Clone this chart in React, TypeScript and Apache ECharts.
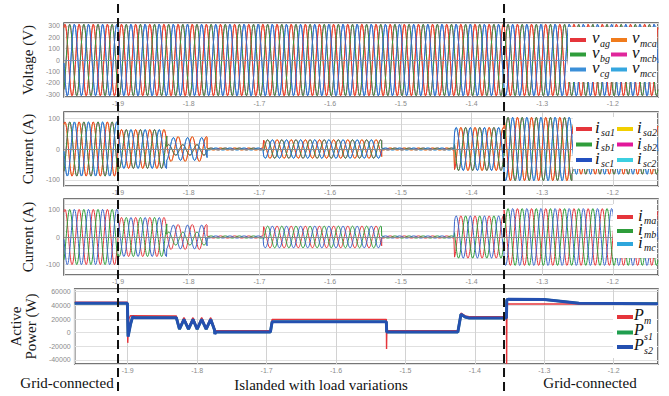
import React, { useEffect, useRef } from "react";
import * as echarts from "echarts";

// ---------- time axis ----------
const T_START = -1.9764;
const T_END = -1.1362;
const GRID_FREQ_HZ = 50;
const SAMPLE_STEP = 0.0005;
const SWITCH_TIMES = [-1.9, -1.354];
const timeTickLabels = [-1.9, -1.8, -1.7, -1.6, -1.5, -1.4, -1.3, -1.2];

// ---------- panel 1 : voltages (segment start, amplitude) ----------
const voltageSegStart = [T_START];
const voltageAmp = [315];
const voltTickLabels = [-300, -200, -100, 0, 100, 200, 300];

// ---------- panel 2 : source currents ----------
const srcSegStart = [-1.98, -1.9, -1.831, -1.774, -1.694, -1.527, -1.424, -1.354, -1.258];
const srcAmpA = [88, 63, 40, 3, 30, 3, 70, 103, 82];
const srcAmpB = [88, 63, 17, 3, 30, 3, 70, 103, 82];
const srcAmpC = [88, 63, 37, 3, 30, 3, 70, 103, 82];
const srcOffB = [0, 0, -3, 0, 0, 0, 0, 0, 0];
const currentTickLabels = [-100, 0, 100];

// ---------- panel 3 : microgrid currents ----------
const mgSegStart = [-1.98, -1.9, -1.831, -1.774, -1.694, -1.527, -1.424, -1.354];
const mgAmpA = [102, 72, 46, 4, 40, 4, 78, 105];
const mgAmpB = [102, 72, 24, 4, 40, 4, 78, 105];
const mgAmpC = [102, 72, 44, 4, 40, 4, 78, 105];
const mgOffB = [0, 0, -6, 0, 0, 0, 0, 0];

// ---------- panel 4 : active power breakpoints ----------
const psTimes = [
  -1.9764, -1.9005, -1.8995, -1.896, -1.893, -1.89, -1.83, -1.8255, -1.819, -1.8125, -1.806,
  -1.8, -1.7935, -1.787, -1.7805, -1.775, -1.7745, -1.773, -1.6945, -1.692, -1.5275, -1.527,
  -1.4245, -1.42, -1.414, -1.408, -1.3545, -1.354, -1.352, -1.3, -1.25, -1.1362,
];
const ps2Values = [
  43000, 43000, -6000, 12000, 23000, 22000, 22000, 5000, 19500, 5000, 19500,
  5000, 19500, 5000, 19500, 4000, -2000, 1000, 1000, 16000, 16000, 1000,
  1000, 27000, 23000, 21500, 21500, 48000, 49000, 48500, 43000, 42500,
];
const ps1Values = [
  43000, 43000, -5000, 12500, 23000, 22000, 22000, 5000, 19500, 5000, 19500,
  5000, 19500, 5000, 19500, 4000, -1500, 1000, 1000, 16000, 16000, 1000,
  1000, 27000, 23000, 21500, 21500, 48000, 49000, 48500, 43000, 42500,
];
const pmTimes = [
  -1.9764, -1.9005, -1.9, -1.8985, -1.896, -1.83, -1.8255, -1.819, -1.8125, -1.806, -1.8,
  -1.7935, -1.787, -1.7805, -1.775, -1.7745, -1.773, -1.6945, -1.692, -1.5275, -1.5272,
  -1.5268, -1.4245, -1.42, -1.414, -1.408, -1.3545, -1.3542, -1.3538, -1.1362,
];
const pmValues = [
  44500, 44500, -15000, 20000, 25000, 24500, 6500, 22000, 6500, 22000, 6500,
  22000, 6500, 22000, 6000, 0, 3000, 3000, 19500, 19500, -24000,
  3000, 3000, 28500, 24500, 23500, 23500, -46000, 42000, 42000,
];
const powerTickLabels = [-40000, -20000, 0, 20000, 40000, 60000];

// ---------- colours ----------
const RED = "#e5353b";
const GREEN = "#2f9d3b";
const BLUE = "#3b66c9";

const SERIF = "'Liberation Serif', 'DejaVu Serif', serif";

function sampleWave(starts: number[], amps: number[], offs: number[] | null, phaseDeg: number) {
  const times: number[] = [];
  const n = Math.round((T_END - T_START) / SAMPLE_STEP);
  for (let i = 0; i <= n; i++) times.push(T_START + i * SAMPLE_STEP);
  for (const s of starts) if (s > T_START && s < T_END) { times.push(s - 1e-6); times.push(s); }
  times.sort((a, b) => a - b);
  const pts: number[][] = [];
  for (const t of times) {
    let k = 0;
    while (k + 1 < starts.length && t >= starts[k + 1]) k++;
    const w = 2 * Math.PI * GRID_FREQ_HZ * t + (phaseDeg * Math.PI) / 180;
    pts.push([t, amps[k] * Math.sin(w) + (offs ? offs[k] : 0)]);
  }
  return pts;
}

const zip = (ts: number[], vs: number[]) => ts.map((t, i) => [t, vs[i]]);

function lineSeries(name: string, data: number[][], color: string, idx: number, width = 1, z = 2, extra: any = {}) {
  return {
    type: "line", name, data, xAxisIndex: idx, yAxisIndex: idx,
    showSymbol: false, symbol: "none", silent: true, z,
    lineStyle: { color, width }, itemStyle: { color },
    ...extra,
  };
}

const zeroLine = (color: string) => ({
  markLine: {
    silent: true, symbol: "none", label: { show: false },
    lineStyle: { color, width: 1, type: "solid" },
    data: [{ yAxis: 0 }],
  },
});

const labelIn = (list: number[]) => (v: number) =>
  list.some((l) => Math.abs(l - v) < 1e-6) ? String(Math.round(v * 10) / 10) : "";

const grids = [
  { left: 64, top: 23, width: 594, height: 74 },
  { left: 64, top: 112, width: 594, height: 74 },
  { left: 64, top: 199, width: 594, height: 76 },
  { left: 64, top: 289, width: 594, height: 75 },
];

function buildOption() {
  const xAxis = grids.map((_, i) => ({
    type: "value", gridIndex: i, min: T_START, max: T_END,
    minInterval: 0.1, maxInterval: 0.1,
    axisLine: { show: false }, axisTick: { show: false },
    axisLabel: {
      fontSize: 7, color: "#8a8a8a", margin: 3, fontFamily: "Liberation Sans",
      formatter: (v: number) => (timeTickLabels.some((l) => Math.abs(l - v) < 1e-6) ? v.toFixed(1) : ""),
    },
    splitLine: { show: true, lineStyle: { color: "#d2d2d2", width: 1 } },
  }));
  const yCommon = (i: number, labels: number[], name: string, gap: number) => ({
    type: "value", gridIndex: i,
    axisLine: { show: false }, axisTick: { show: false },
    axisLabel: { fontSize: 7, color: "#8a8a8a", margin: 4, fontFamily: "Liberation Sans", formatter: labelIn(labels) },
    splitLine: { show: true, lineStyle: { color: "#e0e0e0", width: 1 } },
    name, nameLocation: "middle", nameGap: gap,
    nameTextStyle: { fontFamily: SERIF, fontSize: 15, color: "#1a1a1a", lineHeight: 15 },
  });
  const yAxis = [
    { ...yCommon(0, voltTickLabels, "Voltage (V)", 22), min: -325, max: 325, minInterval: 100, maxInterval: 100 },
    { ...yCommon(1, currentTickLabels, "Current (A)", 22), min: -120, max: 120, interval: 20 },
    { ...yCommon(2, currentTickLabels, "Current (A)", 22), min: -140, max: 140, interval: 20 },
    { ...yCommon(3, powerTickLabels, "Active\nPower (W)", 33), min: -46000, max: 64000, minInterval: 20000, maxInterval: 20000 },
  ];

  const series: any[] = [];
  // panel 1
  series.push(lineSeries("v_mca", sampleWave(voltageSegStart, voltageAmp, null, 0), "#f07b1c", 0, 1, 1));
  series.push(lineSeries("v_mcb", sampleWave(voltageSegStart, voltageAmp, null, -120), "#e0269b", 0, 1, 1));
  series.push(lineSeries("v_mcc", sampleWave(voltageSegStart, voltageAmp, null, 120), "#35a6df", 0, 1, 1));
  series.push(lineSeries("v_ag", sampleWave(voltageSegStart, voltageAmp, null, 0), RED, 0, 1, 2));
  series.push(lineSeries("v_bg", sampleWave(voltageSegStart, voltageAmp, null, -120), GREEN, 0, 1, 2));
  series.push(lineSeries("v_cg", sampleWave(voltageSegStart, voltageAmp, null, 120), BLUE, 0, 1, 2, zeroLine("#7d8ea8")));
  // panel 2
  series.push(lineSeries("i_sa2", sampleWave(srcSegStart, srcAmpA, null, 0), "#f2cf00", 1, 1, 1));
  series.push(lineSeries("i_sb2", sampleWave(srcSegStart, srcAmpB, srcOffB, -120), "#e2179a", 1, 1, 1));
  series.push(lineSeries("i_sc2", sampleWave(srcSegStart, srcAmpC, null, 120), "#3ccfe0", 1, 1, 1));
  series.push(lineSeries("i_sa1", sampleWave(srcSegStart, srcAmpA, null, 0), RED, 1, 1, 2));
  series.push(lineSeries("i_sb1", sampleWave(srcSegStart, srcAmpB, srcOffB, -120), GREEN, 1, 1, 2));
  series.push(lineSeries("i_sc1", sampleWave(srcSegStart, srcAmpC, null, 120), BLUE, 1, 1, 2, zeroLine("#8a8a8a")));
  // panel 3
  series.push(lineSeries("i_ma", sampleWave(mgSegStart, mgAmpA, null, 0), RED, 2, 1, 2));
  series.push(lineSeries("i_mb", sampleWave(mgSegStart, mgAmpB, mgOffB, -120), GREEN, 2, 1, 2));
  series.push(lineSeries("i_mc", sampleWave(mgSegStart, mgAmpC, null, 120), BLUE, 2, 1, 2, zeroLine("#8a8a8a")));
  // panel 4
  series.push(lineSeries("P_s1", zip(psTimes, ps1Values), "#1f9e4f", 3, 2.6, 1));
  series.push(lineSeries("P_m", zip(pmTimes, pmValues), RED, 3, 1.4, 2));
  series.push(lineSeries("P_s2", zip(psTimes, ps2Values), "#2450b0", 3, 3, 3));

  return {
    animation: false,
    backgroundColor: "#ffffff",
    grid: grids.map((g) => ({ ...g, show: true, borderColor: "#4a4a4a", borderWidth: 1.5, backgroundColor: "transparent" })),
    xAxis, yAxis, series,
  };
}

// ---------- legends ----------
type Item = [string, string, string];
const voltLegend: Item[] = [
  ["v", "ag", RED], ["v", "bg", GREEN], ["v", "cg", "#3b8fd8"],
  ["v", "mca", "#f07b1c"], ["v", "mcb", "#e0269b"], ["v", "mcc", "#35a6df"],
];
const srcLegend: Item[] = [
  ["i", "sa1", RED], ["i", "sb1", GREEN], ["i", "sc1", "#2350c0"],
  ["i", "sa2", "#f2cf00"], ["i", "sb2", "#e2179a"], ["i", "sc2", "#3ccfe0"],
];
const mgLegend: Item[] = [["i", "ma", RED], ["i", "mb", GREEN], ["i", "mc", "#2ea6dc"]];
const powerLegend: Item[] = [["P", "m", RED], ["P", "s1", "#1f9e4f"], ["P", "s2", "#2450b0"]];

function legendBlock(
  box: [number, number, number, number],
  cols: { barX: number; textX: number }[],
  rowsY: number[],
  items: Item[],
  mainSize: number,
  subDx: number,
  mainDy: number,
  subDy: number,
) {
  const els: any[] = [
    { type: "rect", shape: { x: box[0], y: box[1], width: box[2], height: box[3] }, style: { fill: "#ffffff" }, z: 50 },
  ];
  items.forEach((it, idx) => {
    const c = cols[Math.floor(idx / rowsY.length)];
    const y = rowsY[idx % rowsY.length];
    els.push({ type: "rect", shape: { x: c.barX, y: y - 2, width: 16, height: 4 }, style: { fill: it[2] }, z: 51 });
    els.push({
      type: "text", x: c.textX, y: y + mainDy, z: 51,
      style: { text: it[0], font: `italic ${mainSize}px ${SERIF}`, lineHeight: 11, fill: "#111", verticalAlign: "middle", align: "left" },
    });
    els.push({
      type: "text", x: c.textX + subDx, y: y + subDy, z: 51,
      style: { text: it[1], font: `italic 10px ${SERIF}`, lineHeight: 8, fill: "#111", verticalAlign: "middle", align: "left" },
    });
  });
  return els;
}

function buildGraphic(switchX: number[]) {
  const els: any[] = [];
  els.push(...legendBlock([568, 27, 89, 55], [{ barX: 570, textX: 592 }, { barX: 611, textX: 632 }], [40, 54.5, 69.5], voltLegend, 17, 8, -2.5, 3.5));
  els.push(...legendBlock([573, 117, 84, 52], [{ barX: 576, textX: 595 }, { barX: 617, textX: 637 }], [129, 144.5, 160], srcLegend, 17, 6, -1.5, 3));
  els.push(...legendBlock([613, 204, 44, 54], [{ barX: 617, textX: 638 }], [217, 231, 244], mgLegend, 17, 6, -1.5, 3));
  els.push(...legendBlock([613, 310, 44, 48], [{ barX: 617, textX: 634 }], [317, 332.5, 347], powerLegend, 16, 10, -3, 3.5));
  switchX.forEach((x) => {
    els.push({
      type: "line", z: 60,
      shape: { x1: x, y1: 4, x2: x, y2: 396 },
      style: { stroke: "#111", lineWidth: 2, lineDash: [9, 5] },
    });
  });
  const bottom = [
    ["Grid-connected", 67, 383],
    ["Islanded with load variations", 321, 385],
    ["Grid-connected", 590, 383],
  ] as [string, number, number][];
  bottom.forEach(([t, x, y]) => {
    els.push({
      type: "text", x, y, z: 60,
      style: { text: t, font: `15px ${SERIF}`, fill: "#111", align: "center", verticalAlign: "middle" },
    });
  });
  return els;
}

export default function App() {
  const ref = useRef<HTMLDivElement>(null);
  useEffect(() => {
    const chart = echarts.init(ref.current!, undefined, { renderer: "svg" });
    chart.setOption(buildOption());
    const xs = SWITCH_TIMES.map((t) => chart.convertToPixel({ xAxisIndex: 0 }, t) as unknown as number);
    chart.setOption({ graphic: buildGraphic(xs) });
    return () => chart.dispose();
  }, []);
  return (
    <div
      ref={ref}
      style={{ position: "fixed", left: 0, top: 0, width: 669, height: 396, background: "#fff" }}
    />
  );
}
